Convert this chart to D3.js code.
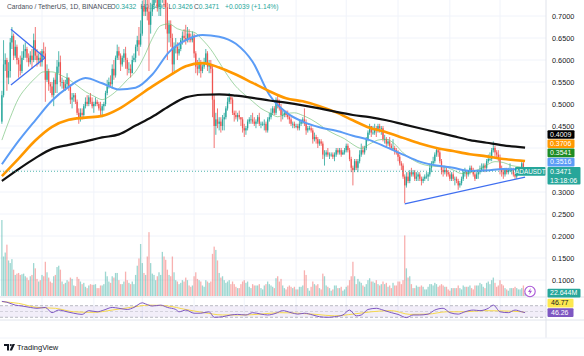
<!DOCTYPE html>
<html><head><meta charset="utf-8">
<script src="https://cdn.jsdelivr.net/npm/d3@7"></script>
<style>
body{margin:0;background:#fff}
svg{display:block;font-family:"Liberation Sans",Arial,sans-serif}
</style></head>
<body><svg id="chart" width="584" height="356"></svg>
<script>
// ---------------- DATA ----------------
const symbolTitle = "Cardano / TetherUS, 1D, BINANCE";
const firstDay = -24;            // first candle: 2023-12-08 (days from 2024-01-01)
const firstOpen = 0.460;
const closes = [
0.520,0.590,0.600,0.560,0.575,0.640,0.655,0.610,0.630,0.600,0.590,0.575,0.605,0.620,0.625,0.605,0.595,0.610,0.600,0.645,0.610,0.600,0.605,0.595,
0.620,0.615,0.555,0.575,0.545,0.540,0.520,0.555,0.545,0.585,0.595,0.550,0.550,0.535,0.545,0.560,0.540,0.510,0.515,0.520,0.505,0.480,0.470,0.480,0.475,0.495,0.505,0.500,0.515,0.505,0.495,
0.500,0.505,0.500,0.490,0.485,0.495,0.500,0.525,0.540,0.550,0.545,0.580,0.565,0.605,0.620,0.610,0.590,0.605,0.615,0.600,0.580,0.580,0.570,0.600,0.605,0.630,0.645,0.635,0.660,
0.720,0.710,0.720,0.710,0.680,0.710,0.725,0.740,0.745,0.720,0.740,0.740,0.790,0.760,0.720,0.660,0.680,0.650,0.590,0.630,0.630,0.615,0.625,0.645,0.655,0.650,0.645,0.660,0.650,0.645,0.655,
0.615,0.585,0.580,0.595,0.575,0.585,0.595,0.615,0.585,0.590,0.580,0.510,0.450,0.465,0.455,0.460,0.450,0.465,0.470,0.490,0.505,0.515,0.510,0.480,0.475,0.470,0.475,0.470,0.465,0.445,
0.440,0.445,0.460,0.465,0.465,0.460,0.455,0.460,0.470,0.455,0.455,0.455,0.455,0.440,0.465,0.470,0.480,0.490,0.480,0.510,0.505,0.490,0.475,0.475,0.480,0.475,0.470,0.465,0.455,0.455,0.450,
0.450,0.445,0.455,0.460,0.465,0.455,0.440,0.445,0.445,0.440,0.420,0.425,0.420,0.410,0.415,0.410,0.385,0.385,0.390,0.385,0.385,0.385,0.380,0.385,0.395,0.390,0.395,0.385,0.390,0.395,
0.405,0.395,0.375,0.355,0.350,0.370,0.355,0.370,0.385,0.395,0.390,0.400,0.420,0.435,0.450,0.435,0.435,0.445,0.440,0.450,0.445,0.445,0.420,0.420,0.410,0.415,0.405,0.400,0.400,0.395,0.390,
0.380,0.365,0.360,0.335,0.315,0.335,0.325,0.345,0.340,0.345,0.330,0.335,0.340,0.330,0.325,0.330,0.335,0.335,0.340,0.355,0.365,0.370,0.385,0.395,0.390,0.370,0.350,0.345,0.350,0.345,0.340,
0.330,0.340,0.330,0.330,0.325,0.315,0.320,0.330,0.345,0.345,0.340,0.345,0.355,0.350,0.340,0.330,0.340,0.345,0.350,0.355,0.360,0.355,0.370,0.375,0.375,0.395,0.400,0.390,0.385,0.375,
0.350,0.345,0.340,0.350,0.345,0.350,0.350,0.350,0.340,0.335,0.345,0.350,0.350,0.365,0.3432,0.3471];
const highs = [
0.530,0.645,0.615,0.605,0.595,0.650,0.675,0.660,0.645,0.635,0.605,0.610,0.620,0.635,0.640,0.630,0.615,0.620,0.625,0.660,0.675,0.625,0.615,0.620,
0.625,0.640,0.630,0.590,0.580,0.550,0.550,0.560,0.570,0.600,0.620,0.610,0.560,0.555,0.555,0.570,0.560,0.545,0.525,0.525,0.525,0.510,0.490,0.490,0.490,0.500,0.515,0.520,0.520,0.525,0.515,
0.505,0.515,0.510,0.505,0.505,0.500,0.505,0.530,0.555,0.560,0.565,0.590,0.600,0.610,0.635,0.630,0.615,0.610,0.625,0.630,0.605,0.595,0.590,0.610,0.615,0.635,0.655,0.675,0.690,
0.735,0.740,0.740,0.760,0.760,0.730,0.740,0.760,0.760,0.760,0.750,0.770,0.800,0.810,0.770,0.730,0.690,0.690,0.660,0.640,0.650,0.640,0.640,0.650,0.665,0.670,0.680,0.675,0.670,0.660,0.665,
0.660,0.620,0.600,0.605,0.600,0.590,0.605,0.625,0.620,0.600,0.600,0.590,0.520,0.480,0.490,0.470,0.470,0.475,0.480,0.495,0.515,0.525,0.520,0.515,0.485,0.485,0.480,0.485,0.470,0.470,
0.455,0.450,0.465,0.470,0.475,0.480,0.470,0.465,0.475,0.480,0.460,0.460,0.465,0.460,0.470,0.480,0.490,0.495,0.495,0.515,0.520,0.510,0.500,0.485,0.485,0.485,0.485,0.475,0.470,0.460,0.460,
0.455,0.455,0.465,0.465,0.470,0.490,0.465,0.450,0.450,0.450,0.445,0.435,0.430,0.425,0.420,0.420,0.415,0.395,0.395,0.400,0.390,0.390,0.390,0.390,0.400,0.400,0.400,0.400,0.395,0.400,
0.410,0.410,0.400,0.380,0.360,0.375,0.375,0.375,0.395,0.410,0.405,0.405,0.425,0.440,0.455,0.450,0.450,0.455,0.450,0.455,0.455,0.450,0.450,0.430,0.425,0.420,0.425,0.410,0.420,0.405,0.400,
0.395,0.385,0.370,0.365,0.340,0.345,0.345,0.350,0.355,0.350,0.350,0.345,0.345,0.345,0.335,0.335,0.340,0.345,0.345,0.365,0.370,0.380,0.390,0.400,0.400,0.395,0.375,0.360,0.360,0.355,0.350,
0.345,0.345,0.345,0.335,0.335,0.330,0.325,0.335,0.350,0.355,0.350,0.350,0.360,0.360,0.355,0.345,0.345,0.350,0.360,0.365,0.365,0.365,0.375,0.385,0.390,0.400,0.415,0.405,0.395,0.395,
0.385,0.360,0.350,0.355,0.355,0.355,0.365,0.355,0.355,0.345,0.350,0.355,0.355,0.370,0.370,0.3490];
const lows = [
0.455,0.515,0.575,0.530,0.545,0.560,0.625,0.600,0.605,0.590,0.560,0.565,0.570,0.600,0.605,0.595,0.585,0.590,0.580,0.595,0.600,0.585,0.590,0.585,
0.585,0.605,0.505,0.550,0.530,0.525,0.515,0.495,0.525,0.525,0.570,0.540,0.535,0.530,0.530,0.535,0.530,0.500,0.490,0.505,0.500,0.475,0.455,0.460,0.465,0.470,0.490,0.495,0.495,0.500,0.490,
0.480,0.495,0.495,0.485,0.475,0.470,0.485,0.495,0.520,0.535,0.540,0.535,0.555,0.560,0.600,0.600,0.575,0.585,0.595,0.580,0.565,0.570,0.560,0.570,0.595,0.595,0.620,0.610,0.630,
0.655,0.700,0.700,0.690,0.575,0.660,0.700,0.715,0.730,0.710,0.700,0.700,0.730,0.720,0.670,0.600,0.640,0.630,0.570,0.575,0.615,0.600,0.610,0.620,0.635,0.640,0.635,0.640,0.640,0.640,0.640,
0.605,0.570,0.565,0.570,0.560,0.570,0.580,0.590,0.575,0.570,0.570,0.470,0.400,0.430,0.445,0.440,0.435,0.440,0.440,0.465,0.485,0.500,0.500,0.475,0.460,0.465,0.460,0.465,0.450,0.435,
0.425,0.430,0.440,0.455,0.455,0.455,0.450,0.445,0.455,0.450,0.445,0.450,0.440,0.435,0.435,0.460,0.465,0.475,0.475,0.475,0.490,0.485,0.460,0.465,0.470,0.470,0.465,0.455,0.450,0.445,0.445,
0.445,0.440,0.440,0.450,0.455,0.450,0.430,0.435,0.440,0.435,0.410,0.415,0.410,0.400,0.405,0.405,0.375,0.360,0.380,0.380,0.375,0.380,0.375,0.370,0.380,0.385,0.385,0.380,0.385,0.385,
0.390,0.390,0.370,0.345,0.315,0.345,0.350,0.345,0.365,0.380,0.385,0.385,0.395,0.415,0.430,0.425,0.430,0.430,0.425,0.435,0.435,0.430,0.415,0.410,0.400,0.405,0.400,0.395,0.395,0.385,0.385,
0.370,0.360,0.350,0.330,0.275,0.310,0.320,0.320,0.335,0.335,0.325,0.325,0.325,0.325,0.315,0.320,0.325,0.330,0.325,0.335,0.345,0.360,0.365,0.380,0.380,0.365,0.340,0.335,0.340,0.335,0.335,
0.325,0.325,0.325,0.315,0.320,0.305,0.310,0.315,0.325,0.335,0.330,0.335,0.340,0.345,0.335,0.325,0.330,0.330,0.340,0.345,0.350,0.345,0.350,0.365,0.370,0.370,0.390,0.380,0.375,0.370,
0.340,0.335,0.330,0.335,0.340,0.340,0.345,0.340,0.335,0.330,0.330,0.340,0.340,0.345,0.340,0.3426];
const volumesM = [
577,300,330,390,270,250,280,200,160,170,175,160,165,170,150,140,120,150,160,250,210,130,110,120,
160,150,260,180,140,110,100,150,160,220,230,200,110,90,100,120,110,140,130,80,75,145,130,110,90,100,70,60,80,90,85,
85,90,60,60,80,80,90,185,150,110,100,150,140,175,175,120,90,90,110,185,120,100,90,110,90,160,230,285,395,
250,175,160,300,485,250,170,160,120,150,180,160,335,300,275,200,160,150,300,180,120,110,90,100,120,110,140,120,80,70,80,
150,180,130,120,110,80,70,120,110,100,110,320,375,350,270,175,140,150,120,100,110,120,90,110,90,70,60,60,90,110,
120,100,110,70,60,90,80,80,80,90,60,50,80,90,110,90,80,70,60,135,150,110,130,80,60,50,70,80,70,60,70,
50,50,70,70,80,195,160,60,40,70,110,90,80,90,60,50,170,150,80,70,60,40,50,80,80,60,60,70,40,50,
70,80,120,150,260,150,90,130,110,100,80,70,90,120,135,110,110,100,120,90,80,90,110,90,100,70,80,60,100,80,80,
110,110,90,120,460,210,140,150,90,60,60,80,70,70,80,70,50,50,70,90,90,80,100,90,70,80,90,80,70,70,50,
40,60,60,60,60,80,60,50,80,70,70,70,80,60,50,80,80,80,100,90,70,60,100,110,90,120,140,100,70,80,
120,90,80,60,50,40,60,60,60,70,60,50,50,60,80,22.644];

// moving averages, read every 10 days (days from 2024-01-01)
const maDays = [-24,-14,-4,6,16,26,36,46,56,66,76,86,96,106,116,126,136,146,156,166,176,186,196,206,216,226,236,246,256,266,276,289];
const ma200 = [0.325,0.352,0.377,0.398,0.407,0.415,0.424,0.431,0.451,0.471,0.495,0.515,0.521,0.522,0.519,0.514,0.508,0.503,0.497,0.490,0.482,0.475,0.470,0.463,0.454,0.445,0.436,0.427,0.418,0.412,0.406,0.4009];
const ma100 = [0.336,0.376,0.417,0.448,0.464,0.469,0.473,0.489,0.514,0.540,0.564,0.586,0.593,0.583,0.567,0.548,0.529,0.513,0.506,0.495,0.481,0.463,0.446,0.436,0.423,0.410,0.400,0.393,0.386,0.381,0.375,0.3706];
const ma50 = [0.363,0.416,0.463,0.508,0.539,0.559,0.547,0.533,0.537,0.567,0.618,0.645,0.657,0.653,0.637,0.596,0.521,0.481,0.460,0.447,0.439,0.428,0.418,0.402,0.385,0.369,0.360,0.355,0.348,0.349,0.352,0.3516];
// 20-day MA, read every 5 days
const ma20Days = [-24,-19,-14,-9,-4,1,6,11,16,21,26,31,36,41,46,51,56,61,66,71,76,81,86,91,96,101,106,111,116,121,126,131,136,141,146,151,156,161,166,171,176,181,186,191,196,201,206,211,216,221,226,231,236,241,246,251,256,261,266,271,276,281,286,289];
const ma20 = [0.418,0.469,0.513,0.539,0.559,0.573,0.573,0.566,0.556,0.542,0.528,0.518,0.510,0.519,0.535,0.555,0.574,0.607,0.649,0.678,0.682,0.671,0.666,0.663,0.646,0.624,0.595,0.565,0.540,0.522,0.506,0.490,0.480,0.471,0.478,0.480,0.474,0.465,0.453,0.440,0.430,0.421,0.408,0.399,0.409,0.418,0.420,0.409,0.389,0.375,0.365,0.360,0.358,0.357,0.350,0.342,0.344,0.351,0.361,0.369,0.367,0.360,0.357,0.3541];

// RSI (14) and its moving average
const rsiDays = [-24,-21,-16,-12,-7,-3,2,6,10,15,19,24,28,33,37,42,46,51,55,60,62,66,71,75,80,82,86,91,95,100,103,108,113,117,122,126,131,135,140,144,149,153,157,162,166,171,175,180,184,188,191,195,200,204,209,213,218,222,226,231,235,240,244,249,253,258,262,267,270,274,279,283,287,289];
const rsiValues = [85,82,72,69,64,61,64,46,55,49,44,40,53,49,55,64,61,57,64,80,76,69,72,64,57,49,55,44,44,49,30,32,38,40,38,46,41,38,44,53,46,41,44,38,32,30,32,38,55,35,38,57,61,55,46,40,29,38,38,41,55,61,46,41,49,55,53,61,72,49,46,55,49,46.26];
const rsiMaDays = [-24,-14,-3,8,19,31,42,53,64,75,86,97,108,120,131,142,153,164,175,186,197,209,220,231,242,253,264,275,287,289];
const rsiMaValues = [84,78,64,61,49,47,55,64,72,69,57,46,38,38,41,46,44,40,35,41,49,53,40,41,49,49,53,52,49,46.77];

// drawn trend lines: [day, price] pairs
const trendLines = [
  [[-18.6,0.670],[1.8,0.605]],
  [[-18.6,0.543],[1.8,0.605]],
  [[217,0.273],[289,0.334]]
];

const priceGridTicks = [0.1,0.15,0.2,0.25,0.3,0.35,0.4,0.45,0.5,0.55,0.6,0.65,0.7];
const priceLabelTicks = [0.1,0.15,0.2,0.25,0.3,0.45,0.5,0.55,0.6,0.65,0.7];
const timeTickDays = [0,31,60,91,121,152,182,213,244,274,301];
const timeLabels = ["2024","Feb","Mar","Apr","May","Jun","Jul","Aug","Sep","Oct","28"];
const countdown = "13:18:06";

// ---------------- CHART ----------------
const W = 584, H = 356, plotW = 546;
const DAY = 864e5, T0 = Date.UTC(2024,0,1);
const dayDate = d => new Date(T0 + d*DAY);
const svg = d3.select("#chart");
const teal = "#26a69a", red = "#ef5350";

const x = d3.scaleUtc().domain([dayDate(0), dayDate(274)]).range([42, 500]);
const y = d3.scaleLinear().domain([0.1, 0.7]).range([280, 16]);
const yv = d3.scaleLinear().domain([0, 600]).range([296, 217]);
const yr = d3.scaleLinear().domain([30, 70]).range([317.3, 305.7]);

const defs = svg.append("defs");
defs.append("clipPath").attr("id","mainClip").append("rect").attr("x",0).attr("y",0).attr("width",plotW).attr("height",297);
defs.append("clipPath").attr("id","rsiClip").append("rect").attr("x",0).attr("y",297).attr("width",plotW).attr("height",23);
defs.append("clipPath").attr("id","axClip").append("rect").attr("x",0).attr("y",318).attr("width",plotW).attr("height",20);

svg.append("rect").attr("width",W).attr("height",H).attr("fill","#fff");

// grid
const grid = svg.append("g");
grid.selectAll("line.h").data(priceGridTicks).join("line")
  .attr("x1",0).attr("x2",plotW).attr("y1",d=>y(d)).attr("y2",d=>y(d))
  .attr("stroke","#f0f3fa").attr("stroke-width",1);
grid.selectAll("line.v").data(timeTickDays.slice(0,10)).join("line")
  .attr("x1",d=>x(dayDate(d))).attr("x2",d=>x(dayDate(d))).attr("y1",0).attr("y2",320)
  .attr("stroke","#f0f3fa").attr("stroke-width",1);

// header legend
const n = closes.length;
const lastO = closes[n-2], lastC = closes[n-1], lastH = highs[n-1], lastL = lows[n-1];
const chg = lastC - lastO;
const f4 = d3.format(".4f");
const hdr = svg.append("g").attr("font-size",6.7).attr("fill","#131722");
hdr.append("text").attr("x",7).attr("y",9).attr("fill","#4a4e59").text(symbolTitle);
const hdrItems = [["O",lastO,110.5],["H",lastH,140.5],["L",lastL,168.5],["C",lastC,194]];
hdrItems.forEach(([k,v,px])=>{
  const t = hdr.append("text").attr("x",px).attr("y",9);
  t.append("tspan").attr("fill","#4a4e59").text(k);
  t.append("tspan").attr("fill",teal).text(f4(v));
});
hdr.append("text").attr("x",225).attr("y",9).attr("fill",teal)
  .text((chg>=0?"+":"")+f4(chg)+" ("+(chg>=0?"+":"")+d3.format(".2f")(chg/lastO*100)+"%)");

const candles = closes.map((c,i)=>{
  const o = i===0 ? firstOpen : closes[i-1];
  return {d: dayDate(firstDay+i), o, c, h: highs[i], l: lows[i], v: volumesM[i]};
});

const main = svg.append("g").attr("clip-path","url(#mainClip)");
// volume
main.append("g").selectAll("rect").data(candles).join("rect")
  .attr("x",d=>x(d.d)-0.65).attr("width",1.3)
  .attr("y",d=>yv(d.v)).attr("height",d=>yv(0)-yv(d.v))
  .attr("fill",d=>d.c>=d.o ? "rgba(38,166,154,0.45)" : "rgba(239,83,80,0.45)");

// candles
const cg = main.append("g");
cg.selectAll("line").data(candles).join("line")
  .attr("x1",d=>x(d.d)).attr("x2",d=>x(d.d))
  .attr("y1",d=>y(Math.max(d.h,d.o,d.c))).attr("y2",d=>y(Math.min(d.l,d.o,d.c)))
  .attr("stroke",d=>d.c>=d.o?teal:red).attr("stroke-width",0.8);
cg.selectAll("rect").data(candles).join("rect")
  .attr("x",d=>x(d.d)-0.65).attr("width",1.3)
  .attr("y",d=>y(Math.max(d.o,d.c)))
  .attr("height",d=>Math.max(0.8, Math.abs(y(d.o)-y(d.c))))
  .attr("fill",d=>d.c>=d.o?teal:red);

// moving averages
const maLine = (days, vals) => d3.line().curve(d3.curveMonotoneX)
  .x((v,i)=>x(dayDate(days[i]))).y(v=>y(v))(vals);
main.append("path").attr("d",maLine(ma20Days,ma20)).attr("fill","none").attr("stroke","#66bb6a").attr("stroke-opacity",0.6).attr("stroke-width",1);
main.append("path").attr("d",maLine(maDays,ma50)).attr("fill","none").attr("stroke","#5b9cf6").attr("stroke-width",2);
main.append("path").attr("d",maLine(maDays,ma100)).attr("fill","none").attr("stroke","#ff9800").attr("stroke-width",2.6);
main.append("path").attr("d",maLine(maDays,ma200)).attr("fill","none").attr("stroke","#111").attr("stroke-width",2.2);

// trend lines
main.append("g").selectAll("line").data(trendLines).join("line")
  .attr("x1",d=>x(dayDate(d[0][0]))).attr("y1",d=>y(d[0][1]))
  .attr("x2",d=>x(dayDate(d[1][0]))).attr("y2",d=>y(d[1][1]))
  .attr("stroke","#3f6ef0").attr("stroke-width",1.3);

// current price line
main.append("line").attr("x1",0).attr("x2",plotW).attr("y1",y(lastC)).attr("y2",y(lastC))
  .attr("stroke",teal).attr("stroke-width",0.8).attr("stroke-dasharray","1,2");

// RSI pane
const rsiG = svg.append("g");
rsiG.append("rect").attr("x",0).attr("width",plotW).attr("y",yr(70)).attr("height",yr(30)-yr(70)).attr("fill","rgba(126,87,194,0.1)");
[70,50,30].forEach(v=>{
  rsiG.append("line").attr("x1",0).attr("x2",plotW).attr("y1",yr(v)).attr("y2",yr(v))
    .attr("stroke","#787b86").attr("stroke-opacity",v===50?0.35:0.7).attr("stroke-width",0.7).attr("stroke-dasharray","3,2");
});
const rsiLine = (days, vals) => d3.line().curve(d3.curveMonotoneX)
  .x((v,i)=>x(dayDate(days[i]))).y(v=>yr(v))(vals);
const rsiClip = rsiG.append("g").attr("clip-path","url(#rsiClip)");
rsiClip.append("path").attr("d",rsiLine(rsiMaDays,rsiMaValues)).attr("fill","none").attr("stroke","#f7d94c").attr("stroke-width",1);
rsiClip.append("path").attr("d",rsiLine(rsiDays,rsiValues)).attr("fill","none").attr("stroke","#7e57c2").attr("stroke-width",1);

// pane borders
svg.append("line").attr("x1",0).attr("x2",W).attr("y1",297).attr("y2",297).attr("stroke","#e0e3eb");
svg.append("line").attr("x1",0).attr("x2",W).attr("y1",320).attr("y2",320).attr("stroke","#e0e3eb");
svg.append("line").attr("x1",plotW).attr("x2",plotW).attr("y1",0).attr("y2",338).attr("stroke","#e0e3eb");
svg.append("line").attr("x1",0).attr("x2",W).attr("y1",338).attr("y2",338).attr("stroke","#f0f3fa");

// price axis
const pAx = svg.append("g").attr("transform",`translate(${plotW},0)`)
  .call(d3.axisRight(y).tickValues(priceLabelTicks).tickSize(0).tickPadding(6).tickFormat(f4));
pAx.select(".domain").remove();
pAx.selectAll("text").attr("font-size",7.3).attr("fill","#131722").attr("font-family","Liberation Sans, Arial, sans-serif");

// time axis
const tAx = svg.append("g").attr("transform","translate(0,320)").attr("clip-path","url(#axClip)")
  .call(d3.axisBottom(x).tickValues(timeTickDays.map(dayDate)).tickSize(0).tickPadding(6).tickFormat((d,i)=>timeLabels[i]));
tAx.select(".domain").remove();
tAx.selectAll("text").attr("font-size",7.5).attr("fill","#131722").attr("font-family","Liberation Sans, Arial, sans-serif")
  .attr("font-weight",(d,i)=>i===0?"bold":"normal");

// right-side value labels (stacked upward)
const lastBlue = ma50[ma50.length-1], lastGreen = ma20[ma20.length-1],
      lastOrange = ma100[ma100.length-1], lastBlack = ma200[ma200.length-1];
const lab = svg.append("g").attr("font-size",7).attr("font-family","Liberation Sans, Arial, sans-serif");
let stackTop = y(lastC) - 4.3;
lab.append("rect").attr("x",547.5).attr("y",stackTop).attr("width",33).attr("height",17.5).attr("rx",1).attr("fill",teal);
lab.append("text").attr("x",550).attr("y",stackTop+7.2).attr("fill","#fff").text(f4(lastC));
lab.append("text").attr("x",550).attr("y",stackTop+15.6).attr("fill","#fff").text(countdown);
[[lastBlue,"#5b9cf6"],[lastGreen,"#1e8c24"],[lastOrange,"#ff9800"],[lastBlack,"#000"]].forEach(([v,col])=>{
  const cy = Math.min(y(v), stackTop - 0.6 - 4.3);
  const t = cy - 4.3;
  lab.append("rect").attr("x",547.5).attr("y",t).attr("width",27).attr("height",8.6).attr("rx",1).attr("fill",col);
  lab.append("text").attr("x",550).attr("y",t+6.6).attr("fill","#fff").text(f4(v));
  stackTop = t;
});
// symbol tag
lab.append("rect").attr("x",515).attr("y",y(lastC)-4.3).attr("width",30.5).attr("height",8.8).attr("rx",1).attr("fill",teal);
lab.append("text").attr("x",530.3).attr("y",y(lastC)+2.4).attr("text-anchor","middle").attr("font-size",6.4).attr("fill","#fff").text("ADAUSDT");
// volume label
const lastV = volumesM[n-1];
lab.append("rect").attr("x",547.5).attr("y",yv(lastV)-4.3).attr("width",33).attr("height",8.8).attr("rx",1).attr("fill",teal);
lab.append("text").attr("x",550).attr("y",yv(lastV)+2.4).attr("fill","#fff").text(d3.format(".3f")(lastV)+"M");
// rsi labels
const lastRsi = rsiValues[rsiValues.length-1], lastRsiMa = rsiMaValues[rsiMaValues.length-1];
const ry = yr(lastRsi);
lab.append("rect").attr("x",547.5).attr("y",ry-4.3).attr("width",26).attr("height",8.8).attr("rx",1).attr("fill","#7e57c2");
lab.append("text").attr("x",551).attr("y",ry+2.4).attr("fill","#fff").text(d3.format(".2f")(lastRsi));
lab.append("rect").attr("x",547.5).attr("y",ry-4.3-9.6).attr("width",26).attr("height",8.8).attr("rx",1).attr("fill","#fde84f");
lab.append("text").attr("x",551).attr("y",ry+2.4-9.6).attr("fill","#131722").text(d3.format(".2f")(lastRsiMa));

// lightning icon
const icon = svg.append("g").attr("transform","translate(530,291.5)");
icon.append("circle").attr("r",5.2).attr("fill","#fff").attr("stroke","#a855d6").attr("stroke-width",1.1);
icon.append("path").attr("d","M0.8,-3.6 L-2,0.6 L-0.1,0.6 L-0.8,3.6 L2,-0.7 L0.1,-0.7 Z").attr("fill","#a855d6");

// TradingView logo
const logo = svg.append("g").attr("transform","translate(4,344)");
logo.append("path").attr("d","M0,0 H5 V6.5 H3 V2 H0 Z").attr("fill","#131722");
logo.append("circle").attr("cx",6.8).attr("cy",1.1).attr("r",1.1).attr("fill","#131722");
logo.append("path").attr("d","M8.5,0 H11 L8,6.5 H5.6 Z").attr("fill","#131722");
svg.append("text").attr("x",17).attr("y",350).attr("font-size",7.5).attr("fill","#131722").text("TradingView");
</script>
</body></html>
